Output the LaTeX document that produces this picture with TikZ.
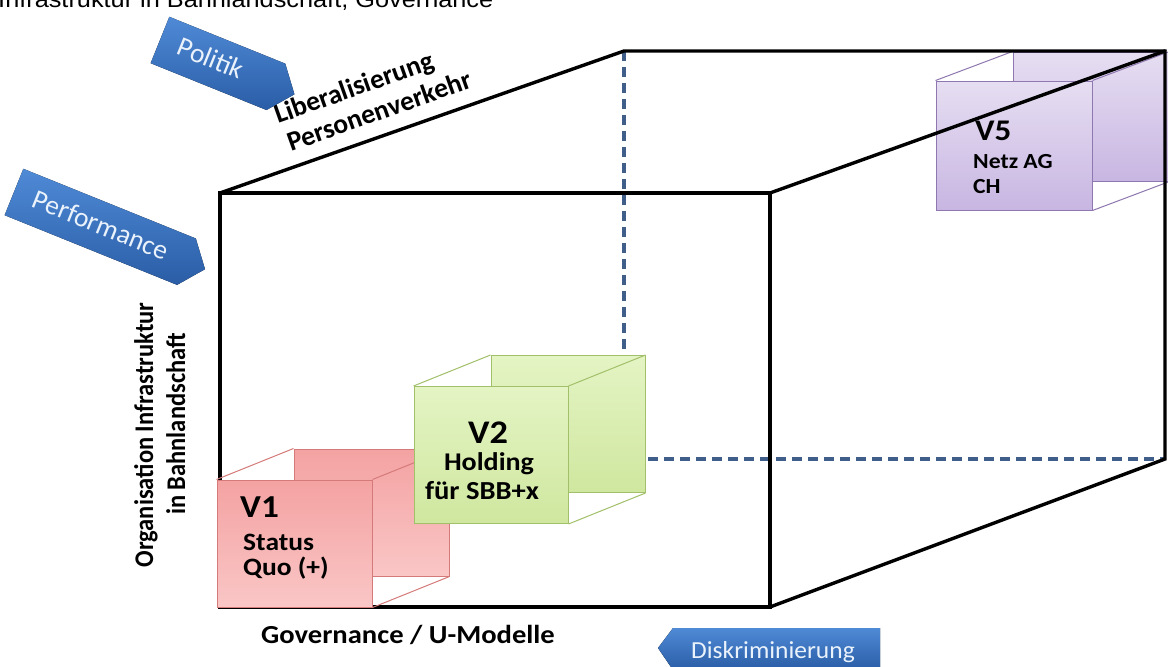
\documentclass[tikz,border=0pt]{standalone}
\usepackage{fontspec}
\setmainfont{Carlito}
\newfontfamily\titlefont{Liberation Sans}
\definecolor{cubeDash}{HTML}{3F5E8A}
\definecolor{arrTop}{HTML}{4F8AD6}
\definecolor{arrBot}{HTML}{2A5DA6}
\definecolor{arrText}{HTML}{EAF2FB}
\definecolor{redTop}{HTML}{F4A2A2}
\definecolor{redBot}{HTML}{FAC6C6}
\definecolor{redEdge}{HTML}{D57A7A}
\definecolor{grnTop}{HTML}{E4F4C4}
\definecolor{grnBot}{HTML}{CFE79F}
\definecolor{grnEdge}{HTML}{A2C06A}
\definecolor{purTop}{HTML}{E6DEF2}
\definecolor{purBot}{HTML}{C8B6E2}
\definecolor{purEdge}{HTML}{8F78B0}
\newcommand{\fs}[1]{\fontsize{#1}{#1}\selectfont}
\tikzset{
  cubeline/.style={line width=3.4pt, black, line join=miter, line cap=round},
  hiddenline/.style={line width=3.2pt, cubeDash, dash pattern=on 10pt off 6pt},
  redface/.style={draw=redEdge, top color=redTop, bottom color=redBot, minimum width=155pt, minimum height=127pt, inner sep=0pt, line width=1pt},
  grnface/.style={draw=grnEdge, top color=grnTop, bottom color=grnBot, minimum width=154pt, minimum height=137pt, inner sep=0pt, line width=1pt},
  purface/.style={draw=purEdge, top color=purTop, bottom color=purBot, minimum width=156pt, minimum height=129pt, inner sep=0pt, line width=1pt},
  rededge/.style={draw=redEdge, line width=1pt},
  grnedge/.style={draw=grnEdge, line width=1pt},
  puredge/.style={draw=purEdge, line width=1pt},
  lbl/.style={inner sep=0pt, xscale=1.1, text=black},
  arrowfill/.style={top color=arrTop, bottom color=arrBot, draw=none},
  arrlbl/.style={inner sep=0pt, text=arrText},
}
\begin{document}
\begin{tikzpicture}[x=1pt,y=-1pt]
\useasboundingbox (0,0) rectangle (1168,667);
\clip (0,0) rectangle (1168,667);
\fill[white] (0,0) rectangle (1168,667);

% title (cut off at top)
\node[lbl, anchor=base west, font=\titlefont\fs{23}] (title) at (-2,7) {Infrastruktur in Bahnlandschaft, Governance};

% cube corners
\coordinate (F1) at (220,193);
\coordinate (F2) at (770,193);
\coordinate (F3) at (770,607);
\coordinate (F4) at (220,607);
\coordinate (B1) at (624,51);
\coordinate (B2) at (1165,51);
\coordinate (B3) at (1165,459);
\coordinate (B4) at (624,459);

% hidden edges
\draw[hiddenline] (B1) -- (B4) -- (B3);

% V5 box
\node[purface] (v5back) at (1091,116.5) {};
\draw[puredge] (v5back.north west) -- ++(-77,29);
\draw[puredge] (v5back.north east) -- ++(-77,29);
\draw[puredge] (v5back.south east) -- ++(-77,29);
\node[purface] (v5front) at (1014,145.5) {};

% visible cube edges
\draw[cubeline] (F4) -- (F1) -- (F2) -- (F3) -- cycle;
\draw[cubeline] (F1) -- (B1) -- (B2) -- (B3) -- (F3);
\draw[cubeline] (F2) -- (B2);

% V1 box
\node[redface] (v1back) at (371.5,512.5) {};
\draw[rededge] (v1back.north west) -- ++(-77,31);
\draw[rededge] (v1back.north east) -- ++(-77,31);
\draw[rededge] (v1back.south east) -- ++(-77,31);
\node[redface] (v1front) at (294.5,543.5) {};

% V2 box
\node[grnface] (v2back) at (568,424) {};
\draw[grnedge] (v2back.north west) -- ++(-77,31);
\draw[grnedge] (v2back.north east) -- ++(-77,31);
\draw[grnedge] (v2back.south east) -- ++(-77,31);
\node[grnface] (v2front) at (491,455) {};

% box labels
\node[lbl, anchor=base west, font=\bfseries\fs{32}] (v1a) at (240,517) {V1};
\node[lbl, anchor=base west, font=\bfseries\fs{25}] (v1b) at (243,550) {Status};
\node[lbl, anchor=base west, font=\bfseries\fs{25}] (v1c) at (243,575) {Quo (+)};

\node[lbl, anchor=base, font=\bfseries\fs{33}] (v2a) at (488,443) {V2};
\node[lbl, anchor=base, font=\bfseries\fs{25.5}] (v2b) at (489,470) {Holding};
\node[lbl, anchor=base, font=\bfseries\fs{26}] (v2c) at (482,499) {für SBB+x};

\node[lbl, anchor=base west, font=\bfseries\fs{30}] (v5a) at (975,140) {V5};
\node[lbl, anchor=base west, font=\bfseries\fs{21.5}] (v5b) at (973,168) {Netz AG};
\node[lbl, anchor=base west, font=\bfseries\fs{21.5}] (v5c) at (973,193) {CH};

% axis labels
\node[inner sep=0pt, anchor=base west, font=\bfseries\fs{27.5}, rotate=19.6] (lib1) at (278,124) {Liberalisierung};
\node[inner sep=0pt, anchor=base west, font=\bfseries\fs{27.5}, rotate=19.6] (lib2) at (291,152) {Personenverkehr};
\node[inner sep=0pt, anchor=base, font=\bfseries\fs{24.5}, xscale=1.1, rotate=90] (org1) at (153,435) {Organisation Infrastruktur};
\node[inner sep=0pt, anchor=base, font=\bfseries\fs{24.5}, xscale=1.1, rotate=90] (org2) at (185,424) {in Bahnlandschaft};
\node[lbl, anchor=base, font=\bfseries\fs{26}] (gov) at (408,643) {Governance / U-Modelle};

% blue arrows
\begin{scope}[shift={(160,40)}, rotate=-22]
  \fill[arrowfill] (0,-25) -- (125,-25) -- (145,0) -- (125,25) -- (0,25) -- cycle;
\end{scope}
\node[arrlbl, font=\fs{27.5}, rotate=-22] (pol) at (211,58) {Politik};

\begin{scope}[shift={(14,192)}, rotate=-22]
  \fill[arrowfill] (0,-25) -- (186,-25) -- (206,0) -- (186,25) -- (0,25) -- cycle;
\end{scope}
\node[arrlbl, font=\fs{27.5}, rotate=-22] (perf) at (101,225) {Performance};

\fill[arrowfill] (658,648) -- (673,628) -- (880,628) -- (880,670) -- (673,670) -- cycle;
\node[arrlbl, anchor=base, font=\fs{24.5}, xscale=1.04] (disk) at (773,658) {Diskriminierung};
\end{tikzpicture}
\end{document}
